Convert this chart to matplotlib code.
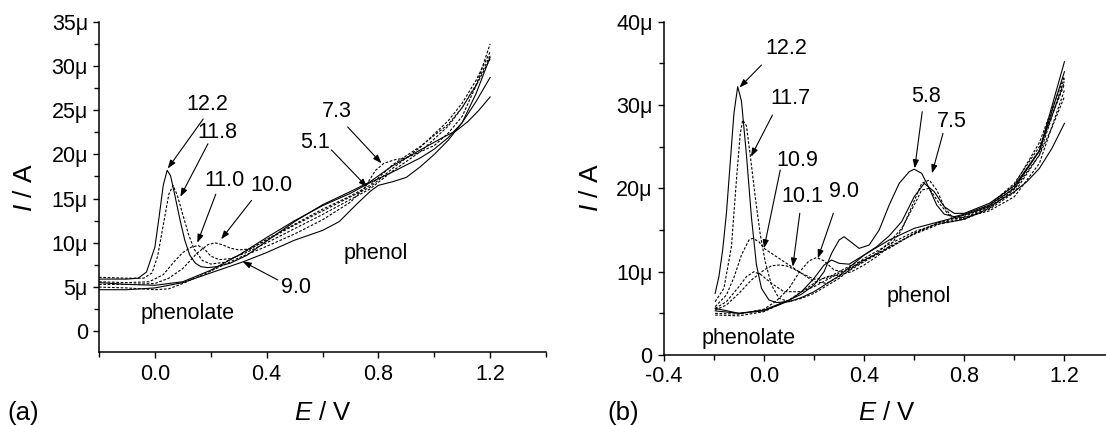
import matplotlib
matplotlib.use("Agg")
from matplotlib import pyplot as plt
from matplotlib.ticker import MultipleLocator, FuncFormatter

plt.rcParams['font.family'] = ['Liberation Sans', 'DejaVu Sans']
plt.rcParams['mathtext.fontset'] = 'custom'
plt.rcParams['mathtext.it'] = 'Liberation Sans:italic'
plt.rcParams['mathtext.rm'] = 'Liberation Sans'

# ---- panel (a): potential in V, current in uA ----
e_a_122 = [-0.2, -0.1, -0.06, -0.03, 0.0, 0.015, 0.03, 0.044, 0.056, 0.07, 0.09, 0.107, 0.125, 0.145, 0.165, 0.19, 0.22, 0.27, 0.33, 0.4, 0.5, 0.6, 0.7, 0.77, 0.85, 0.95, 1.03, 1.08, 1.12, 1.16, 1.2]
i_a_122 = [5.9, 5.9, 6.0, 6.7, 9.5, 12.9, 16.5, 18.2, 17.6, 15.6, 12.6, 10.3, 8.6, 7.7, 7.3, 7.2, 7.3, 7.7, 8.6, 10.2, 12.4, 14.3, 15.8, 16.9, 18.7, 20.5, 21.9, 22.7, 23.7, 25.0, 26.5]

e_a_118 = [-0.2, -0.1, -0.04, -0.01, 0.01, 0.03, 0.05, 0.065, 0.08, 0.1, 0.12, 0.14, 0.17, 0.2, 0.25, 0.3, 0.4, 0.5, 0.6, 0.7, 0.77, 0.85, 0.95, 1.05, 1.1, 1.15, 1.2]
i_a_118 = [6.1, 6.0, 6.0, 6.6, 8.5, 12.0, 15.5, 16.5, 15.4, 13.2, 11.0, 9.3, 8.0, 7.6, 7.8, 8.6, 10.3, 12.0, 13.6, 15.2, 16.3, 18.4, 20.8, 23.8, 25.8, 28.4, 31.6]

e_a_110 = [-0.2, -0.1, -0.02, 0.03, 0.07, 0.1, 0.13, 0.155, 0.18, 0.2, 0.23, 0.27, 0.32, 0.4, 0.5, 0.6, 0.7, 0.77, 0.85, 0.95, 1.05, 1.1, 1.15, 1.2]
i_a_110 = [5.6, 5.5, 5.6, 6.4, 7.9, 8.9, 9.5, 9.7, 9.2, 8.5, 8.1, 8.2, 8.8, 10.0, 11.6, 13.2, 14.9, 16.1, 18.1, 20.3, 23.2, 25.3, 27.9, 31.2]

e_a_100 = [-0.2, -0.1, 0.0, 0.05, 0.1, 0.15, 0.19, 0.215, 0.24, 0.27, 0.3, 0.34, 0.4, 0.5, 0.6, 0.7, 0.77, 0.85, 0.95, 1.05, 1.1, 1.15, 1.2]
i_a_100 = [5.3, 5.3, 5.4, 6.0, 7.1, 8.8, 9.8, 10.0, 9.8, 9.4, 9.2, 9.3, 10.4, 12.1, 13.8, 15.3, 16.5, 18.8, 20.9, 23.4, 25.3, 27.8, 30.8]

e_a_90 = [-0.2, -0.1, 0.0, 0.1, 0.2, 0.32, 0.4, 0.5, 0.6, 0.66, 0.72, 0.77, 0.8, 0.85, 0.9, 0.95, 1.0, 1.05, 1.1, 1.15, 1.2]
i_a_90 = [4.7, 4.7, 4.9, 5.5, 6.6, 7.9, 8.9, 10.3, 11.4, 12.4, 14.3, 15.8, 16.5, 16.9, 17.4, 18.6, 20.0, 21.6, 23.6, 26.0, 28.7]

e_a_73 = [-0.2, -0.1, 0.0, 0.05, 0.1, 0.2, 0.3, 0.4, 0.5, 0.6, 0.7, 0.75, 0.79, 0.82, 0.86, 0.9, 1.0, 1.05, 1.1, 1.15, 1.2]
i_a_73 = [5.0, 4.9, 4.7, 4.8, 5.4, 6.8, 8.3, 9.6, 11.0, 12.6, 14.6, 16.2, 18.2, 19.0, 19.4, 19.6, 21.0, 22.4, 24.3, 27.8, 32.5]

e_a_51 = [-0.2, -0.1, 0.0, 0.1, 0.2, 0.3, 0.4, 0.5, 0.6, 0.7, 0.77, 0.85, 0.95, 1.0, 1.05, 1.1, 1.15, 1.2]
i_a_51 = [5.5, 5.3, 5.2, 5.6, 6.9, 8.6, 10.6, 12.5, 14.2, 15.6, 16.8, 18.0, 19.6, 20.6, 21.9, 23.6, 26.9, 31.0]

# ---- panel (b) ----
e_b_122 = [-0.195, -0.18, -0.165, -0.15, -0.135, -0.12, -0.105, -0.09, -0.07, -0.05, -0.03, -0.01, 0.02, 0.05, 0.1, 0.15, 0.2, 0.3, 0.4, 0.5, 0.6, 0.7, 0.75, 0.8, 0.9, 1.0, 1.05, 1.1, 1.15, 1.2]
i_b_122 = [7.4, 9.4, 12.6, 17.0, 23.0, 29.0, 32.2, 30.5, 24.0, 16.5, 10.8, 8.0, 6.6, 6.3, 6.4, 6.9, 7.6, 9.5, 12.0, 13.8, 15.2, 16.0, 16.4, 16.8, 17.8, 19.6, 20.8, 22.4, 24.8, 27.8]

e_b_117 = [-0.195, -0.16, -0.13, -0.11, -0.095, -0.085, -0.07, -0.055, -0.035, -0.015, 0.005, 0.03, 0.06, 0.1, 0.15, 0.2, 0.3, 0.4, 0.5, 0.6, 0.7, 0.75, 0.8, 0.9, 1.0, 1.1, 1.15, 1.2]
i_b_117 = [6.4, 8.0, 13.0, 21.0, 26.5, 28.2, 27.5, 24.0, 19.0, 14.5, 11.2, 8.4, 6.8, 6.4, 6.8, 7.4, 9.2, 11.6, 13.3, 14.8, 15.8, 16.0, 16.3, 17.6, 19.9, 24.0, 27.3, 31.0]

e_b_109 = [-0.195, -0.15, -0.12, -0.09, -0.06, -0.045, -0.02, 0.0, 0.05, 0.1, 0.15, 0.2, 0.25, 0.3, 0.4, 0.5, 0.6, 0.7, 0.75, 0.8, 0.9, 1.0, 1.1, 1.2]
i_b_109 = [5.8, 7.2, 9.3, 12.0, 13.8, 14.0, 13.6, 12.8, 11.8, 10.8, 9.8, 8.8, 8.6, 9.4, 11.2, 12.9, 14.6, 15.9, 16.1, 16.4, 17.9, 20.4, 25.5, 33.5]

e_b_105 = [-0.195, -0.15, -0.1, -0.07, -0.04, -0.01, 0.03, 0.08, 0.15, 0.2, 0.3, 0.4, 0.5, 0.6, 0.7, 0.75, 0.8, 0.9, 1.0, 1.1, 1.2]
i_b_105 = [5.6, 6.4, 8.2, 9.4, 10.0, 9.6, 8.6, 7.6, 7.6, 8.2, 9.8, 11.3, 13.0, 14.5, 15.7, 16.0, 16.3, 17.7, 20.1, 24.6, 32.8]

e_b_101 = [-0.195, -0.15, -0.1, -0.05, 0.0, 0.03, 0.06, 0.09, 0.12, 0.15, 0.2, 0.25, 0.3, 0.35, 0.4, 0.5, 0.6, 0.7, 0.75, 0.8, 0.9, 1.0, 1.1, 1.2]
i_b_101 = [5.4, 6.0, 7.4, 9.0, 10.2, 10.7, 10.8, 10.7, 10.3, 9.8, 9.1, 9.2, 10.0, 10.8, 11.4, 12.8, 14.6, 15.9, 16.3, 16.6, 18.0, 20.6, 25.0, 32.5]

e_b_90 = [-0.195, -0.1, 0.0, 0.05, 0.1, 0.14, 0.18, 0.21, 0.24, 0.28, 0.32, 0.36, 0.4, 0.45, 0.5, 0.55, 0.6, 0.63, 0.66, 0.7, 0.75, 0.8, 0.9, 1.0, 1.1, 1.2]
i_b_90 = [5.0, 4.9, 5.5, 6.5, 8.0, 9.9, 11.3, 11.7, 11.3, 10.2, 10.0, 10.6, 11.4, 12.2, 13.5, 15.2, 18.0, 19.8, 20.0, 18.2, 16.4, 16.3, 17.5, 19.5, 24.0, 33.2]

e_b_80 = [-0.195, -0.1, 0.0, 0.1, 0.15, 0.2, 0.24, 0.27, 0.3, 0.34, 0.4, 0.45, 0.5, 0.55, 0.6, 0.64, 0.68, 0.72, 0.76, 0.8, 0.9, 1.0, 1.1, 1.2]
i_b_80 = [5.3, 5.0, 5.3, 6.5, 7.6, 9.2, 10.8, 11.4, 11.0, 10.9, 12.0, 13.0, 14.3, 16.0, 19.0, 20.6, 19.6, 17.8, 17.0, 17.0, 18.2, 20.3, 24.5, 35.2]

e_b_75 = [-0.195, -0.1, 0.0, 0.1, 0.15, 0.2, 0.25, 0.3, 0.35, 0.4, 0.45, 0.5, 0.55, 0.6, 0.63, 0.66, 0.69, 0.72, 0.75, 0.8, 0.9, 1.0, 1.1, 1.2]
i_b_75 = [4.8, 4.7, 5.2, 6.6, 7.6, 8.6, 9.4, 9.6, 10.0, 10.8, 11.8, 13.0, 15.0, 18.5, 20.6, 21.0, 19.8, 17.8, 16.6, 16.5, 17.3, 19.0, 23.0, 31.8]

e_b_58 = [-0.195, -0.1, 0.0, 0.1, 0.15, 0.2, 0.24, 0.27, 0.3, 0.32, 0.35, 0.38, 0.42, 0.46, 0.5, 0.54, 0.58, 0.6, 0.63, 0.66, 0.69, 0.72, 0.76, 0.8, 0.9, 1.0, 1.1, 1.2]
i_b_58 = [5.6, 5.0, 5.4, 6.6, 7.3, 8.4, 10.0, 12.2, 13.8, 14.2, 13.5, 12.8, 13.2, 15.0, 18.0, 20.6, 22.0, 22.3, 21.8, 20.0, 18.0, 16.9, 16.6, 16.9, 18.0, 20.0, 24.5, 34.0]

curves_a = [(e_a_122, i_a_122, '-'), (e_a_118, i_a_118, '--'), (e_a_110, i_a_110, '--'),
            (e_a_100, i_a_100, '--'), (e_a_90, i_a_90, '-'), (e_a_73, i_a_73, '--'),
            (e_a_51, i_a_51, '-')]
curves_b = [(e_b_122, i_b_122, '-'), (e_b_117, i_b_117, '--'), (e_b_109, i_b_109, '--'),
            (e_b_105, i_b_105, '--'), (e_b_101, i_b_101, '--'), (e_b_90, i_b_90, '--'),
            (e_b_80, i_b_80, '-'), (e_b_75, i_b_75, '--'), (e_b_58, i_b_58, '-')]

# label text, text centre, arrow start, arrow tip
notes_a = [("12.2", (0.186, 25.6), (0.173, 24.0), (0.046, 18.4)),
           ("11.8", (0.225, 22.5), (0.190, 21.2), (0.091, 15.2)),
           ("11.0", (0.25, 17.1), (0.218, 15.5), (0.152, 10.0)),
           ("10.0", (0.416, 16.5), (0.346, 14.8), (0.237, 10.4)),
           ("9.0", (0.505, 5.0), (0.44, 5.8), (0.314, 7.9)),
           ("5.1", (0.575, 21.4), (0.632, 20.5), (0.76, 16.3)),
           ("7.3", (0.652, 24.8), (0.69, 23.1), (0.811, 19.0))]
notes_b = [("12.2", (0.09, 36.8), (-0.01, 34.8), (-0.098, 32.1)),
           ("11.7", (0.104, 30.8), (0.034, 28.8), (-0.052, 23.8)),
           ("10.9", (0.132, 23.4), (0.065, 22.2), (0.0, 12.8)),
           ("10.1", (0.152, 19.0), (0.143, 17.0), (0.115, 10.6)),
           ("9.0", (0.319, 19.6), (0.277, 17.0), (0.215, 11.6)),
           ("5.8", (0.646, 31.0), (0.632, 29.2), (0.602, 22.4)),
           ("7.5", (0.75, 28.0), (0.715, 26.6), (0.671, 21.8))]

FS = 15.5


def micro(v, pos):
    if abs(v) < 1e-9:
        return "0"
    return "%gμ" % v


def style_axes(ax, ymajor, yminor):
    for s in ['top', 'right']:
        ax.spines[s].set_visible(False)
    for s in ['left', 'bottom']:
        ax.spines[s].set_linewidth(1.1)
    ax.xaxis.set_major_locator(MultipleLocator(0.4))
    ax.xaxis.set_minor_locator(MultipleLocator(0.2))
    ax.yaxis.set_major_locator(MultipleLocator(ymajor))
    ax.yaxis.set_minor_locator(MultipleLocator(yminor))
    ax.xaxis.set_major_formatter(FuncFormatter(lambda v, p: "%.1f" % v if abs(v) > 1e-9 else "0.0"))
    ax.yaxis.set_major_formatter(FuncFormatter(micro))
    ax.tick_params(which='both', direction='out', width=1.0, labelsize=FS, pad=4)
    ax.tick_params(which='major', length=4)
    ax.tick_params(which='minor', length=3.5)


def draw(ax, curves, notes):
    for e, i, ls in curves:
        if ls == '-':
            ax.plot(e, i, color='black', lw=0.8)
        else:
            ax.plot(e, i, color='black', lw=0.8, linestyle=(0, (2.4, 1.5)))
    for lab, txt, start, tip in notes:
        ax.annotate('', xy=tip, xytext=start,
                    arrowprops=dict(arrowstyle='-|>,head_length=0.5,head_width=0.18',
                                    color='black', lw=0.8, shrinkA=0, shrinkB=0))
        ax.text(txt[0], txt[1], lab, ha='center', va='center', fontsize=FS)


fig = plt.figure(figsize=(11.06, 4.25), dpi=100)

ax1 = fig.add_axes([0.0895, 0.1706, 0.4042, 0.7783])
draw(ax1, curves_a, notes_a)
ax1.set_xlim(-0.2, 1.4)
ax1.set_ylim(-2.4, 35)
style_axes(ax1, 5, 2.5)
ax1.text(0.116, 2.0, "phenolate", ha='center', va='center', fontsize=FS)
ax1.text(0.792, 8.8, "phenol", ha='center', va='center', fontsize=FS)

ax2 = fig.add_axes([0.6002, 0.1647, 0.4075, 0.7842])
draw(ax2, curves_b, notes_b)
ax2.set_xlim(-0.4, 1.4)
ax2.set_ylim(0, 40)
style_axes(ax2, 10, 5)
ax2.text(-0.063, 2.0, "phenolate", ha='center', va='center', fontsize=FS)
ax2.text(0.618, 7.0, "phenol", ha='center', va='center', fontsize=FS)

for x in [0.0226, 0.5344]:
    fig.text(x, 0.558, r"$I$ / A", rotation=90, ha='center', va='center', fontsize=19)
for x in [0.292, 0.802]:
    fig.text(x, 0.028, r"$E$ / V", ha='center', va='center', fontsize=18.5)
fig.text(0.021, 0.028, "(a)", ha='center', va='center', fontsize=18.5)
fig.text(0.5635, 0.028, "(b)", ha='center', va='center', fontsize=18.5)

fig.savefig("out.png", dpi=100)
